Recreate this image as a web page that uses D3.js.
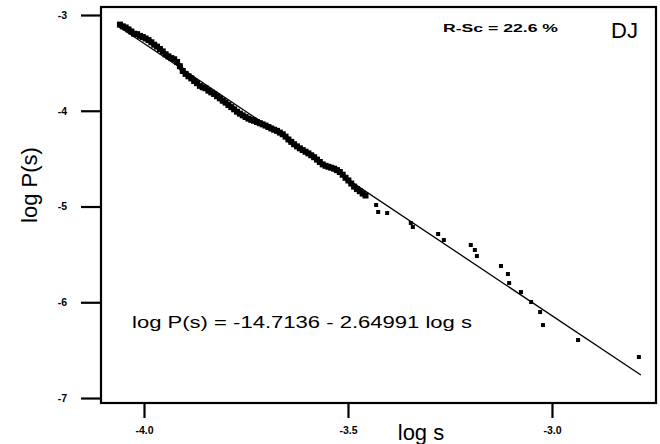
<!DOCTYPE html>
<html>
<head>
<meta charset="utf-8">
<script src="https://cdn.jsdelivr.net/npm/d3@7"></script>
<style>
  html, body { margin: 0; padding: 0; background: #fff; }
  svg { display: block; }
  text { font-family: "Liberation Sans", Arial, sans-serif; fill: #000; }
</style>
</head>
<body>
<svg id="chart" width="660" height="444"></svg>
<script>
// ---- data ----
const logS = [
  -4.059,-4.052,-4.045,-4.038,-4.031,-4.024,-4.017,-4.010,-4.003,-3.996,
  -3.989,-3.982,-3.975,-3.968,-3.961,-3.954,-3.947,-3.940,-3.933,-3.926,
  -3.919,-3.912,-3.905,-3.898,-3.891,-3.884,-3.877,-3.870,-3.863,-3.856,
  -3.849,-3.842,-3.835,-3.828,-3.821,-3.814,-3.807,-3.800,-3.793,-3.786,
  -3.779,-3.772,-3.765,-3.758,-3.751,-3.744,-3.737,-3.730,-3.723,-3.716,
  -3.709,-3.702,-3.695,-3.688,-3.681,-3.674,-3.667,-3.660,-3.653,-3.646,
  -3.639,-3.632,-3.625,-3.618,-3.611,-3.604,-3.597,-3.590,-3.583,-3.576,
  -3.569,-3.562,-3.555,-3.548,-3.541,-3.534,-3.527,-3.520,-3.513,-3.506,
  -3.499,-3.492,-3.485,-3.478,-3.471,-3.464,-3.457,
  -3.431,-3.426,-3.404,-3.346,-3.341,-3.279,-3.265,-3.199,-3.189,-3.184,
  -3.125,-3.108,-3.105,-3.076,-3.051,-3.029,-3.022,-2.936,-2.787
];
const logP = [
  -3.100,-3.118,-3.130,-3.150,-3.172,-3.195,-3.200,-3.218,-3.230,-3.245,
  -3.262,-3.285,-3.310,-3.330,-3.355,-3.380,-3.410,-3.432,-3.450,-3.462,
  -3.490,-3.535,-3.585,-3.615,-3.640,-3.662,-3.690,-3.712,-3.740,-3.755,
  -3.765,-3.790,-3.808,-3.825,-3.848,-3.870,-3.895,-3.915,-3.940,-3.962,
  -3.985,-4.010,-4.030,-4.048,-4.065,-4.082,-4.095,-4.105,-4.118,-4.130,
  -4.142,-4.155,-4.170,-4.185,-4.198,-4.210,-4.228,-4.245,-4.270,-4.300,
  -4.325,-4.350,-4.372,-4.392,-4.410,-4.428,-4.445,-4.465,-4.485,-4.510,
  -4.535,-4.560,-4.575,-4.585,-4.595,-4.605,-4.620,-4.640,-4.668,-4.700,
  -4.728,-4.760,-4.792,-4.818,-4.840,-4.865,-4.885,
  -4.984,-5.057,-5.068,-5.172,-5.214,-5.287,-5.350,-5.402,-5.454,-5.517,
  -5.621,-5.705,-5.799,-5.893,-5.997,-6.102,-6.238,-6.394,-6.572
];
const denseCount = 87; // the first points form the dense, overlapping band
// fitted line end points
const fitX = [-4.064, -2.782];
const fitY = [-3.115, -6.760];
// ticks
const xTicks = [-4.0, -3.5, -3.0];
const xTickLabels = ["-4.0", "-3.5", "-3.0"];
const yTicks = [-3, -4, -5, -6, -7];
const yTickLabels = ["-3", "-4", "-5", "-6", "-7"];
const xTitle = "log s";
const yTitle = "log P(s)";
const equation = "log P(s) = -14.7136 - 2.64991 log s";
const statText = "R-Sc = 22.6 %";
const panelTag = "DJ";

// ---- layout ----
const L = 101, R = 656, T = 7, B = 403;
const svg = d3.select("#chart");
const x = d3.scaleLinear().domain([-4.1054, -2.745]).range([L, R]);
const y = d3.scaleLinear().domain([-7.052, -2.9164]).range([B, T]);

// axes
const xAxis = d3.axisBottom(x).tickValues(xTicks)
  .tickFormat((d, i) => xTickLabels[i]).tickSize(15).tickPadding(9);
const yAxis = d3.axisLeft(y).tickValues(yTicks)
  .tickFormat((d, i) => yTickLabels[i]).tickSize(20).tickPadding(14);

const gx = svg.append("g").attr("transform", `translate(0,${B})`).call(xAxis);
const gy = svg.append("g").attr("transform", `translate(${L},0)`).call(yAxis);
[gx, gy].forEach(g => {
  g.select(".domain").remove();
  g.selectAll(".tick line").attr("stroke", "#000").attr("stroke-width", 2.2);
  g.selectAll(".tick text").attr("font-size", 10.5).attr("font-weight", "bold")
    .attr("fill", "#000");
});

// frame
svg.append("rect").attr("x", L).attr("y", T)
  .attr("width", R - L).attr("height", B - T)
  .attr("fill", "none").attr("stroke", "#000").attr("stroke-width", 2.2);

// fitted line
svg.append("line")
  .attr("x1", x(fitX[0])).attr("y1", y(fitY[0]))
  .attr("x2", x(fitX[1])).attr("y2", y(fitY[1]))
  .attr("stroke", "#000").attr("stroke-width", 1.3);

// points
const pts = logS.map((v, i) => ({ s: v, p: logP[i], dense: i < denseCount }));
// dense band: overlapping markers joined
svg.append("path").datum(pts.filter(d => d.dense))
  .attr("d", d3.line().x(d => x(d.s)).y(d => y(d.p)))
  .attr("fill", "none").attr("stroke", "#000").attr("stroke-width", 4.5)
  .attr("stroke-linejoin", "round").attr("stroke-linecap", "round");
svg.append("g").selectAll("rect").data(pts).join("rect")
  .attr("x", d => x(d.s) - (d.dense ? 3 : 2))
  .attr("y", d => y(d.p) - (d.dense ? 3 : 2))
  .attr("width", d => d.dense ? 6 : 4).attr("height", d => d.dense ? 6 : 4)
  .attr("fill", "#000");

// titles
svg.append("text").attr("x", 421).attr("y", 440)
  .attr("text-anchor", "middle").attr("font-size", 22).text(xTitle);
svg.append("text")
  .attr("transform", `translate(37,${(T + B) / 2 - 20}) rotate(-90)`)
  .attr("text-anchor", "middle").attr("font-size", 22).text(yTitle);

// annotations
svg.append("text").attr("x", 132).attr("y", 328)
  .attr("font-size", 16).attr("textLength", 340).attr("lengthAdjust", "spacingAndGlyphs")
  .text(equation);
svg.append("text").attr("x", 443).attr("y", 32)
  .attr("font-size", 11).attr("font-weight", "bold")
  .attr("textLength", 115).attr("lengthAdjust", "spacingAndGlyphs")
  .text(statText);
svg.append("text").attr("x", 611).attr("y", 38)
  .attr("font-size", 22).text(panelTag);
</script>
</body>
</html>
